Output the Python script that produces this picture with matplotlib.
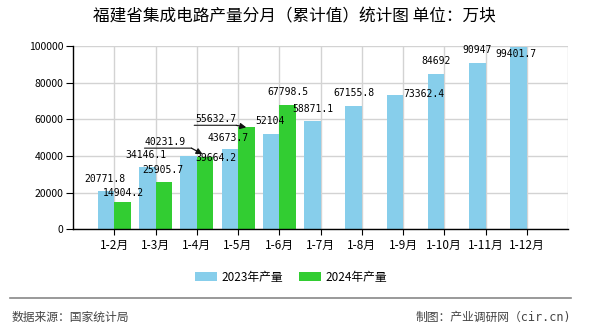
import numpy as np
import matplotlib
matplotlib.use('Agg')
import matplotlib.pyplot as plt
from matplotlib.transforms import offset_copy

plt.rcParams['font.family'] = ['Noto Sans CJK SC', 'DejaVu Sans']

months = ['1-2月', '1-3月', '1-4月', '1-5月', '1-6月', '1-7月',
          '1-8月', '1-9月', '1-10月', '1-11月', '1-12月']
v2023 = [20771.8, 34146.1, 40231.9, 43673.7, 52104, 58871.1,
         67155.8, 73362.4, 84692, 90947, 99401.7]
v2024 = [14904.2, 25905.7, 39664.2, 55632.7, 67798.5]
lab2023 = ['20771.8', '34146.1', '40231.9', '43673.7', '52104', '58871.1',
           '67155.8', '73362.4', '84692', '90947', '99401.7']
lab2024 = ['14904.2', '25905.7', '39664.2', '55632.7', '67798.5']

# label offsets in pixels (text centre relative to bar top)
off2023 = [(-1, 12), (-1, 12), (-23, 14), (-2, 11), (-1, 13), (1, 12),
           (0, 13), (29, 1), (0, 13), (0, 13), (-3, -7)]
off2024 = [(1, 9), (-1, 12), (11, -1), (-30, 8), (0, 13)]

c2023 = '#87CEEB'
c2024 = '#32CD32'
w = 0.4

fig = plt.figure(figsize=(5.9, 3.3), dpi=100)
ax = fig.add_axes([73 / 590, 1 - 229.3 / 330, 495 / 590, 183.3 / 330])

x = np.arange(1, len(months) + 1)
x24 = x[:len(v2024)]
ax.bar(x - w, v2023, width=w, align='edge', color=c2023, label='2023年产量', zorder=2)
ax.bar(x24, v2024, width=w, align='edge', color=c2024, label='2024年产量', zorder=2)

ax.set_xlim(0, 12)
ax.set_ylim(0, 100000)
ax.set_yticks(np.arange(0, 100001, 20000))
ax.set_xticks(x)
ax.set_xticklabels(months, fontsize=8.5)
ax.tick_params(axis='y', labelsize=7.5, length=5, pad=2)
ax.tick_params(axis='x', length=4, pad=3)
ax.grid(True, color='#d3d3d3', linewidth=1, zorder=0)
ax.axvline(12, color='#d3d3d3', linewidth=1, zorder=0)
for s in ['top', 'right']:
    ax.spines[s].set_visible(False)
for s in ['left', 'bottom']:
    ax.spines[s].set_linewidth(1)

mono = dict(family='DejaVu Sans Mono', fontsize=7, ha='center', va='center', zorder=5)

for i, (xi, v) in enumerate(zip(x, v2023)):
    ax.annotate(lab2023[i], xy=(xi - w / 2, v), xytext=off2023[i],
                textcoords='offset pixels', **mono)
for i, (xi, v) in enumerate(zip(x24, v2024)):
    ax.annotate(lab2024[i], xy=(xi + w / 2, v), xytext=off2024[i],
                textcoords='offset pixels', **mono)


def leader(bx, by, start, corner, tip):
    t0 = offset_copy(ax.transData, fig=fig, x=start[0], y=start[1], units='dots')
    t1 = offset_copy(ax.transData, fig=fig, x=corner[0], y=corner[1], units='dots')
    t2 = offset_copy(ax.transData, fig=fig, x=tip[0], y=tip[1], units='dots')
    ax.annotate('', xy=(bx, by), xycoords=t1, xytext=(bx, by), textcoords=t0,
                arrowprops=dict(arrowstyle='-', color='#333333', lw=0.9,
                                shrinkA=0, shrinkB=0), zorder=6)
    ax.annotate('', xy=(bx, by), xycoords=t2, xytext=(bx, by), textcoords=t1,
                arrowprops=dict(arrowstyle='-|>', color='#111111', lw=0.9,
                                mutation_scale=9, shrinkA=0, shrinkB=0), zorder=6)


leader(3 - w / 2, v2023[2], (-44, 7.4), (3, 7.4), (14, 1.4))
leader(4 + w / 2, v2024[3], (-52, 2), (-10, 2), (0, 0))

fig.text(294 / 590, 1 - 17 / 330, '福建省集成电路产量分月（累计值）统计图 单位：万块',
         ha='center', va='center', fontsize=12)

fig.legend(loc='center', bbox_to_anchor=(291 / 590, 1 - 277 / 330), ncol=2,
           frameon=False, fontsize=8.5, handlelength=1.86, handleheight=0.76,
           handletextpad=0.35, columnspacing=1.35)

fig.add_artist(plt.Line2D([10 / 590, 571 / 590], [1 - 298 / 330, 1 - 298 / 330],
                          color='#888888', linewidth=1.2))
fig.text(12 / 590, 1 - 317 / 330, '数据来源：国家统计局', ha='left', va='center',
         fontsize=8.5, color='#444444')
fig.text(571 / 590, 1 - 317 / 330, '制图：产业调研网（cir.cn)', ha='right', va='center',
         fontsize=8.5, color='#444444', family=['DejaVu Sans Mono', 'Noto Sans CJK SC'])

fig.savefig('out.png', dpi=100)
